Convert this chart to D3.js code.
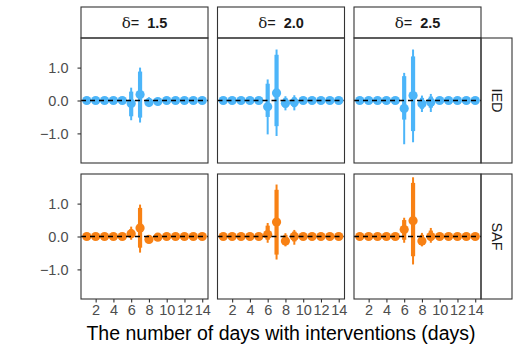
<!DOCTYPE html>
<html>
<head>
<meta charset="utf-8">
<script src="https://cdn.jsdelivr.net/npm/d3@7"></script>
<style>
  body { margin: 0; background: #fff; }
  text { font-family: "Liberation Sans", Arial, sans-serif; }
</style>
</head>
<body>
<svg id="chart" width="521" height="355"></svg>
<script>
// data: per day [mid, lo66, hi66, lo95, hi95]
const days = d3.range(1, 15);
const deltas = ["1.5", "2.0", "2.5"];
const groups = ["IED", "SAF"];
const xTicks = [2, 4, 6, 8, 10, 12, 14];
const yTicks = [-1, 0, 1];

const flat = [0, -0.03, 0.03, -0.06, 0.06];

const ied15 = [flat, flat, flat, flat, [0, -0.05, 0.05, -0.1, 0.1],
    [-0.09, -0.48, 0.27, -0.60, 0.39], [0.18, -0.52, 0.88, -0.67, 1.0],
    [-0.06, -0.15, 0.05, -0.2, 0.1], [-0.03, -0.1, 0.05, -0.15, 0.08],
    flat, flat, flat, flat, flat];
const ied20 = [flat, flat, flat, flat, [0, -0.05, 0.05, -0.1, 0.1],
    [-0.19, -0.50, 0.51, -1.03, 0.64], [0.23, -0.78, 1.39, -1.08, 1.55],
    [-0.08, -0.22, 0.08, -0.3, 0.13], [-0.05, -0.2, 0.1, -0.3, 0.16],
    flat, flat, flat, flat, flat];
const ied25 = [flat, flat, flat, flat, [0, -0.05, 0.05, -0.1, 0.1],
    [-0.24, -0.58, 0.74, -1.33, 0.84], [0.15, -0.93, 1.34, -1.27, 1.55],
    [-0.1, -0.25, 0.08, -0.35, 0.15], [-0.05, -0.22, 0.12, -0.35, 0.2],
    flat, flat, flat, flat, flat];
const saf15 = [flat, flat, flat, flat, [0, -0.05, 0.05, -0.1, 0.1],
    [0.08, -0.03, 0.22, -0.1, 0.3], [0.26, -0.34, 0.87, -0.49, 0.97],
    [-0.09, -0.15, 0.0, -0.18, 0.03], [-0.02, -0.08, 0.04, -0.1, 0.06],
    flat, flat, flat, flat, flat];
const saf20 = [flat, flat, flat, flat, [0, -0.05, 0.05, -0.1, 0.1],
    [0.06, -0.1, 0.33, -0.19, 0.41], [0.44, -0.55, 1.42, -0.7, 1.58],
    [-0.14, -0.25, 0.05, -0.3, 0.1], [0, -0.15, 0.15, -0.25, 0.2],
    flat, flat, flat, flat, flat];
const saf25 = [flat, flat, flat, flat, [0, -0.05, 0.05, -0.1, 0.1],
    [0.21, -0.1, 0.5, -0.19, 0.57], [0.48, -0.6, 1.63, -0.85, 1.8],
    [-0.14, -0.25, 0.05, -0.3, 0.11], [0, -0.12, 0.18, -0.19, 0.26],
    flat, flat, flat, flat, flat];

const panels = [[ied15, ied20, ied25], [saf15, saf20, saf25]];
const colors = ["#4cb5f9", "#f88114"];

const svg = d3.select("#chart");

const left = 81, pw = 127, gapX = 9.5;
const tops = [38, 174], ph = 125;
const stripH = 31, stripW = 31;

const x = d3.scaleLinear().domain([0.35, 14.65]).range([0, pw]);
const y = d3.scaleLinear().domain([-1.9, 1.9]).range([ph, 0]);

// top strips
deltas.forEach((d, c) => {
    const gx = left + c * (pw + gapX);
    svg.append("rect")
        .attr("x", gx).attr("y", tops[0] - stripH)
        .attr("width", pw).attr("height", stripH)
        .attr("fill", "#fff").attr("stroke", "#333").attr("stroke-width", 1.1);
    const t = svg.append("text")
        .attr("x", gx + pw / 2).attr("y", tops[0] - stripH / 2 + 5)
        .attr("text-anchor", "middle")
        .attr("font-size", "14.5px")
        .attr("fill", "#1a1a1a");
    t.append("tspan").style("font-family", "'DejaVu Serif', serif").attr("font-size", "15px").text("\u03b4");
    t.append("tspan").text("= \u00a0");
    t.append("tspan").attr("font-weight", "bold").text(d);
});

groups.forEach((g, r) => {
    const ty = tops[r];
    const sx = left + 3 * pw + 2 * gapX;
    svg.append("rect")
        .attr("x", sx).attr("y", ty)
        .attr("width", stripW).attr("height", ph)
        .attr("fill", "#fff").attr("stroke", "#333").attr("stroke-width", 1.1);
    svg.append("text")
        .attr("transform", "translate(" + (sx + stripW / 2 - 5) + "," + (ty + ph / 2) + ") rotate(90)")
        .attr("text-anchor", "middle")
        .attr("font-size", "14.5px")
        .attr("fill", "#1a1a1a")
        .text(g);

    // y axis on left column
    const ya = svg.append("g")
        .attr("transform", "translate(" + left + "," + ty + ")")
        .call(d3.axisLeft(y).tickValues(yTicks).tickSizeInner(3.5).tickSizeOuter(0).tickPadding(9)
            .tickFormat(v => v === 0 ? "0.0" : (v < 0 ? "\u22121.0" : "1.0")));
    ya.select(".domain").remove();
    ya.selectAll("line").attr("stroke", "#333").attr("stroke-width", 1.1);
    ya.selectAll("text").attr("font-size", "14.5px").attr("fill", "#4d4d4d")
        .style("font-family", "'Liberation Sans', Arial, sans-serif");

    deltas.forEach((d, c) => {
        const gx = left + c * (pw + gapX);
        const data = panels[r][c].map((v, i) => ({ day: days[i], v: v }));
        const p = svg.append("g").attr("transform", "translate(" + gx + "," + ty + ")");
        const col = colors[r];

        // thin interval
        p.selectAll(".thin").data(data).enter().append("line")
            .attr("x1", d => x(d.day)).attr("x2", d => x(d.day))
            .attr("y1", d => y(d.v[3])).attr("y2", d => y(d.v[4]))
            .attr("stroke", col).attr("stroke-width", 2);
        // thick interval
        p.selectAll(".thick").data(data).enter().append("line")
            .attr("x1", d => x(d.day)).attr("x2", d => x(d.day))
            .attr("y1", d => y(d.v[1])).attr("y2", d => y(d.v[2]))
            .attr("stroke", col).attr("stroke-width", 4.2);
        // points
        p.selectAll("circle").data(data).enter().append("circle")
            .attr("cx", d => x(d.day)).attr("cy", d => y(d.v[0]))
            .attr("r", 4.6).attr("fill", col);

        // zero line
        p.append("line")
            .attr("x1", 0).attr("x2", pw)
            .attr("y1", y(0)).attr("y2", y(0))
            .attr("stroke", "#000").attr("stroke-width", 1.3)
            .attr("stroke-dasharray", "5,4");

        p.append("rect")
            .attr("width", pw).attr("height", ph)
            .attr("fill", "none").attr("stroke", "#333").attr("stroke-width", 1.1);

        if (r === 1) {
            const xa = p.append("g")
                .attr("transform", "translate(0," + ph + ")")
                .call(d3.axisBottom(x).tickValues(xTicks).tickSizeInner(3.5).tickSizeOuter(0).tickPadding(2));
            xa.select(".domain").remove();
            xa.selectAll("line").attr("stroke", "#333").attr("stroke-width", 1.1);
            xa.selectAll("text").attr("font-size", "14.5px").attr("fill", "#4d4d4d")
                .style("font-family", "'Liberation Sans', Arial, sans-serif");
        }
    });
});

svg.append("text")
    .attr("x", left + (3 * pw + 2 * gapX) / 2)
    .attr("y", 340)
    .attr("text-anchor", "middle")
    .attr("font-size", "19.5px")
    .attr("fill", "#000")
    .text("The number of days with interventions (days)");
</script>
</body>
</html>
